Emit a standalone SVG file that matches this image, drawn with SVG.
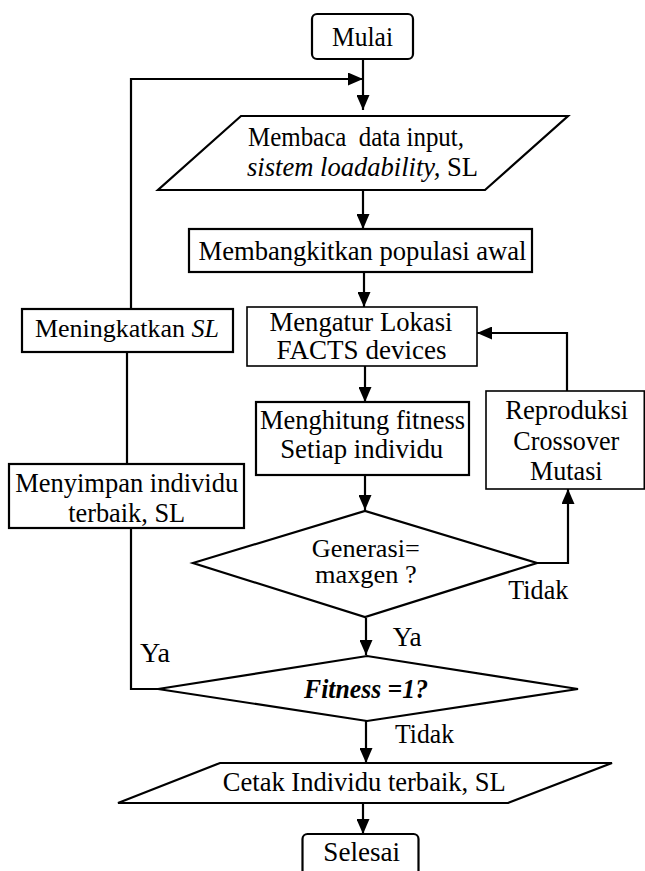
<svg xmlns="http://www.w3.org/2000/svg" width="645" height="871" viewBox="0 0 645 871">
<style>
  .b{fill:#fff;stroke:#000;stroke-width:2.2}
  .t{fill:#fff;stroke:#000;stroke-width:1.6}
  .c{fill:none;stroke:#000;stroke-width:2.2}
  .m{text-anchor:middle}
</style>
<defs>
  <marker id="ah" markerUnits="userSpaceOnUse" markerWidth="15" markerHeight="13" refX="15" refY="6.5" orient="auto">
    <path d="M0,0 L15,6.5 L0,13 z" fill="#000"/>
  </marker>
</defs>
<rect width="645" height="871" fill="#fff"/>

<g id="connectors">
  <path class="c" d="M363,59 V110" marker-end="url(#ah)"/>
  <path class="c" d="M131,309 V79 H363" marker-end="url(#ah)"/>
  <path class="c" d="M363,190 V229" marker-end="url(#ah)"/>
  <path class="c" d="M364,272 V307" marker-end="url(#ah)"/>
  <path class="c" d="M365,366 V402" marker-end="url(#ah)"/>
  <path class="c" d="M365,475 V510" marker-end="url(#ah)"/>
  <path class="c" d="M537,563 H568 V489" marker-end="url(#ah)"/>
  <path class="c" d="M567,391 V333 H477" marker-end="url(#ah)"/>
  <path class="c" d="M366,618 V655" marker-end="url(#ah)"/>
  <path class="c" d="M158,689 H131 V528"/>
  <path class="c" d="M127,464 V352"/>
  <path class="c" d="M366,721 V763" marker-end="url(#ah)"/>
  <path class="c" d="M363,803 V834" marker-end="url(#ah)"/>
</g>

<g font-family="'Liberation Serif', 'Times New Roman', serif" font-size="27" fill="#000">
<g id="mulai">
  <rect class="b" x="312" y="14" width="101" height="45" rx="5"/>
  <text class="m" x="362.5" y="46" textLength="61" lengthAdjust="spacingAndGlyphs">Mulai</text>
</g>

<g id="membaca">
  <polygon class="b" points="241,116 568,116 485,190 158,190"/>
  <text class="m" x="356" y="146" xml:space="preserve" textLength="216" lengthAdjust="spacingAndGlyphs">Membaca  data input,</text>
  <text class="m" x="362.5" y="176" textLength="231" lengthAdjust="spacingAndGlyphs"><tspan font-style="italic">sistem loadability,</tspan> SL</text>
</g>

<g id="membangkitkan">
  <rect class="b" x="189" y="229" width="343" height="43"/>
  <text class="m" x="362.5" y="259.5" textLength="328" lengthAdjust="spacingAndGlyphs">Membangkitkan populasi awal</text>
</g>

<g id="mengatur">
  <rect class="t" x="247" y="307" width="230" height="59"/>
  <text class="m" x="361" y="331" textLength="183" lengthAdjust="spacingAndGlyphs">Mengatur Lokasi</text>
  <text class="m" x="361.5" y="358.5" textLength="170" lengthAdjust="spacingAndGlyphs">FACTS devices</text>
</g>

<g id="meningkatkan">
  <rect class="b" x="22" y="309" width="211" height="43"/>
  <text class="m" x="127" y="337" font-size="26">Meningkatkan <tspan font-style="italic">SL</tspan></text>
</g>

<g id="menghitung">
  <rect class="b" x="256" y="402" width="213" height="73"/>
  <text class="m" x="362.5" y="429" textLength="205" lengthAdjust="spacingAndGlyphs">Menghitung fitness</text>
  <text class="m" x="361.7" y="458" textLength="163" lengthAdjust="spacingAndGlyphs">Setiap individu</text>
</g>

<g id="reproduksi">
  <rect class="t" x="486" y="391" width="158.3" height="98"/>
  <text class="m" x="566.7" y="419" textLength="123" lengthAdjust="spacingAndGlyphs">Reproduksi</text>
  <text class="m" x="566.3" y="449.5" textLength="106" lengthAdjust="spacingAndGlyphs">Crossover</text>
  <text class="m" x="566.3" y="479.5" textLength="72.7" lengthAdjust="spacingAndGlyphs">Mutasi</text>
</g>

<g id="menyimpan">
  <rect class="b" x="9" y="464" width="235" height="64"/>
  <text class="m" x="126.7" y="491.5" textLength="223" lengthAdjust="spacingAndGlyphs">Menyimpan individu</text>
  <text class="m" x="126.7" y="522" textLength="117" lengthAdjust="spacingAndGlyphs">terbaik, SL</text>
</g>

<g id="generasi">
  <polygon class="b" points="193,563 365,511 537,563 365,617"/>
  <text class="m" x="365.8" y="556.5" font-size="25" textLength="108" lengthAdjust="spacingAndGlyphs">Generasi=</text>
  <text class="m" x="365.8" y="583" font-size="25" textLength="101.7" lengthAdjust="spacingAndGlyphs">maxgen ?</text>
</g>

<g id="label-tidak-1">
  <text x="508.3" y="598.5" textLength="60" lengthAdjust="spacingAndGlyphs">Tidak</text>
</g>
<g id="label-ya-1">
  <text x="392.7" y="645.5" textLength="29" lengthAdjust="spacingAndGlyphs">Ya</text>
</g>
<g id="label-ya-2">
  <text x="140" y="662" textLength="30" lengthAdjust="spacingAndGlyphs">Ya</text>
</g>

<g id="fitness">
  <polygon class="b" points="158,689 367,656 578,689 367,721"/>
  <text class="m" x="366" y="697.5" font-weight="bold" font-style="italic" textLength="124" lengthAdjust="spacingAndGlyphs">Fitness =1?</text>
</g>

<g id="label-tidak-2">
  <text x="395" y="743" textLength="59" lengthAdjust="spacingAndGlyphs">Tidak</text>
</g>

<g id="cetak">
  <polygon class="b" points="220,763 612,763 508,803 118,803"/>
  <text class="m" x="364.3" y="790.5" textLength="283" lengthAdjust="spacingAndGlyphs">Cetak Individu terbaik, SL</text>
</g>

<g id="selesai">
  <rect class="b" x="302.5" y="834" width="116" height="42" rx="5"/>
  <text class="m" x="361.7" y="861" textLength="76.7" lengthAdjust="spacingAndGlyphs">Selesai</text>
</g>
</g>
</svg>
